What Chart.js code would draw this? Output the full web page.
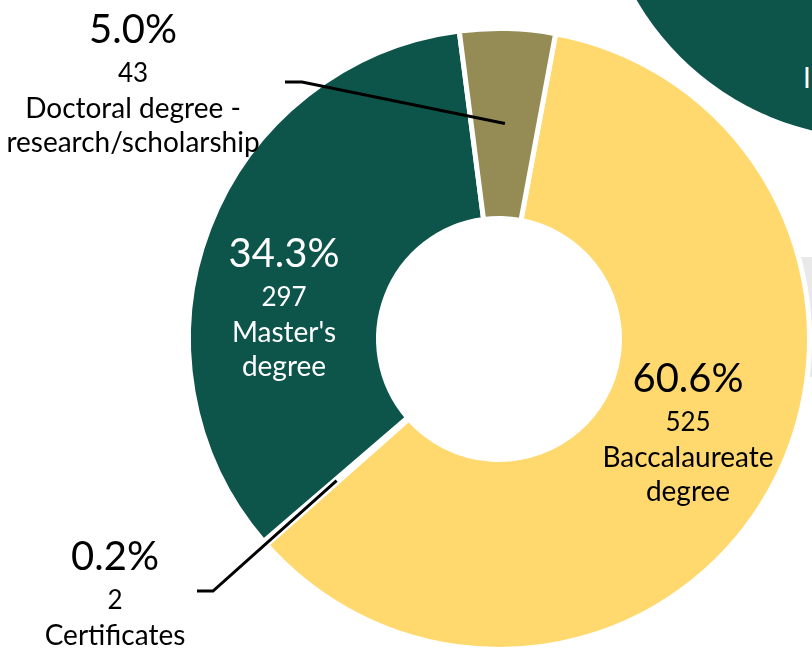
<!DOCTYPE html>
<html>
<head>
<meta charset="utf-8">
<script src="https://cdn.jsdelivr.net/npm/chart.js@4.4.1/dist/chart.umd.min.js"></script>
<style>
  html, body { margin: 0; padding: 0; background: #fff; overflow: hidden; }
  #stage { position: relative; width: 812px; height: 648px; overflow: hidden; }
  /* slide decorations behind the chart */
  .deco-circle { position: absolute; left: 599px; top: -417px; width: 555px; height: 555px; border-radius: 50%; background: #0D544A; }
  .deco-panel { position: absolute; left: 700px; top: 257px; width: 200px; height: 120px; background: #E9E9E9; }
  .deco-text { position: absolute; left: 803px; top: 60px; color: #fff; font: 28px Lato, sans-serif; }
  canvas { position: absolute; left: 0; top: 0; }
</style>
</head>
<body>
<div id="stage">
  <div class="deco-circle"></div>
  <div class="deco-panel"></div>
  <div class="deco-text">I</div>
  <canvas id="degrees" width="812" height="648"></canvas>
</div>
<script>
"use strict"

// Degrees awarded, by level
const categories = ["Baccalaureate degree", "Certificates", "Master's degree", "Doctoral degree - research/scholarship"];
const counts = [525, 2, 297, 43];
// how each category name wraps in its label
const categoryLines = [
  ["Baccalaureate", "degree"],
  ["Certificates"],
  ["Master's", "degree"],
  ["Doctoral degree -", "research/scholarship"],
];
const colors = ["#FFD86E", "#FFFFFF", "#0D544A", "#958B55"];

const total = counts.reduce((a, b) => a + b, 0);

// label placement, relative to the doughnut centre (dx, dy = baseline of the % line)
const labelLayout = [
  { dx: 189, dy: 53, color: "#000" },
  { dx: -384, dy: 231, color: "#000", leader: [[-286, 252], [-302, 252]] },
  { dx: -215, dy: -72, color: "#fff" },
  { dx: -366, dy: -296, color: "#000", leader: [[-197, -257], [-214, -257]] },
];

const sliceLabels = {
  id: "sliceLabels",
  afterDatasetsDraw(chart) {
    const ctx = chart.ctx;
    const arcs = chart.getDatasetMeta(0).data;
    ctx.save();
    arcs.forEach((arc, i) => {
      const lay = labelLayout[i];
      const cx = arc.x, cy = arc.y;
      if (lay.leader) {
        const p = arc.tooltipPosition();
        ctx.beginPath();
        ctx.moveTo(p.x, p.y);
        lay.leader.forEach(pt => ctx.lineTo(cx + pt[0], cy + pt[1]));
        ctx.strokeStyle = "#000";
        ctx.lineWidth = 3;
        ctx.stroke();
      }
      const x = cx + lay.dx;
      let y = cy + lay.dy;
      ctx.fillStyle = lay.color;
      ctx.textAlign = "center";
      ctx.textBaseline = "alphabetic";
      ctx.font = "40px Lato";
      ctx.fillText((counts[i] / total * 100).toFixed(1) + "%", x, y);
      y += 39;
      ctx.font = "26px Lato";
      ctx.fillText(String(counts[i]), x, y);
      ctx.font = "28px Lato";
      categoryLines[i].forEach((line, k) => {
        y += k === 0 ? 36 : 34;
        ctx.fillText(line, x, y);
      });
    });
    ctx.restore();
  }
};

const data = {
  labels: categories,
  datasets: [{
    data: counts,
    backgroundColor: colors,
    borderColor: "#FFFFFF",
    borderWidth: 5,
    borderJoinStyle: "miter",
  }]
};

const config = {
  type: "doughnut",
  data: data,
  options: {
    responsive: false,
    animation: false,
    rotation: 10.5,
    radius: 310.5,
    cutout: "38.8%",
    layout: { padding: { left: 188, right: 2, top: 30, bottom: 0 } },
    plugins: {
      legend: { display: false },
      tooltip: { enabled: false },
    }
  },
  plugins: [sliceLabels]
};

const canvas = document.querySelector("#degrees");
const chart = new Chart(canvas, config);
</script>
</body>
</html>
